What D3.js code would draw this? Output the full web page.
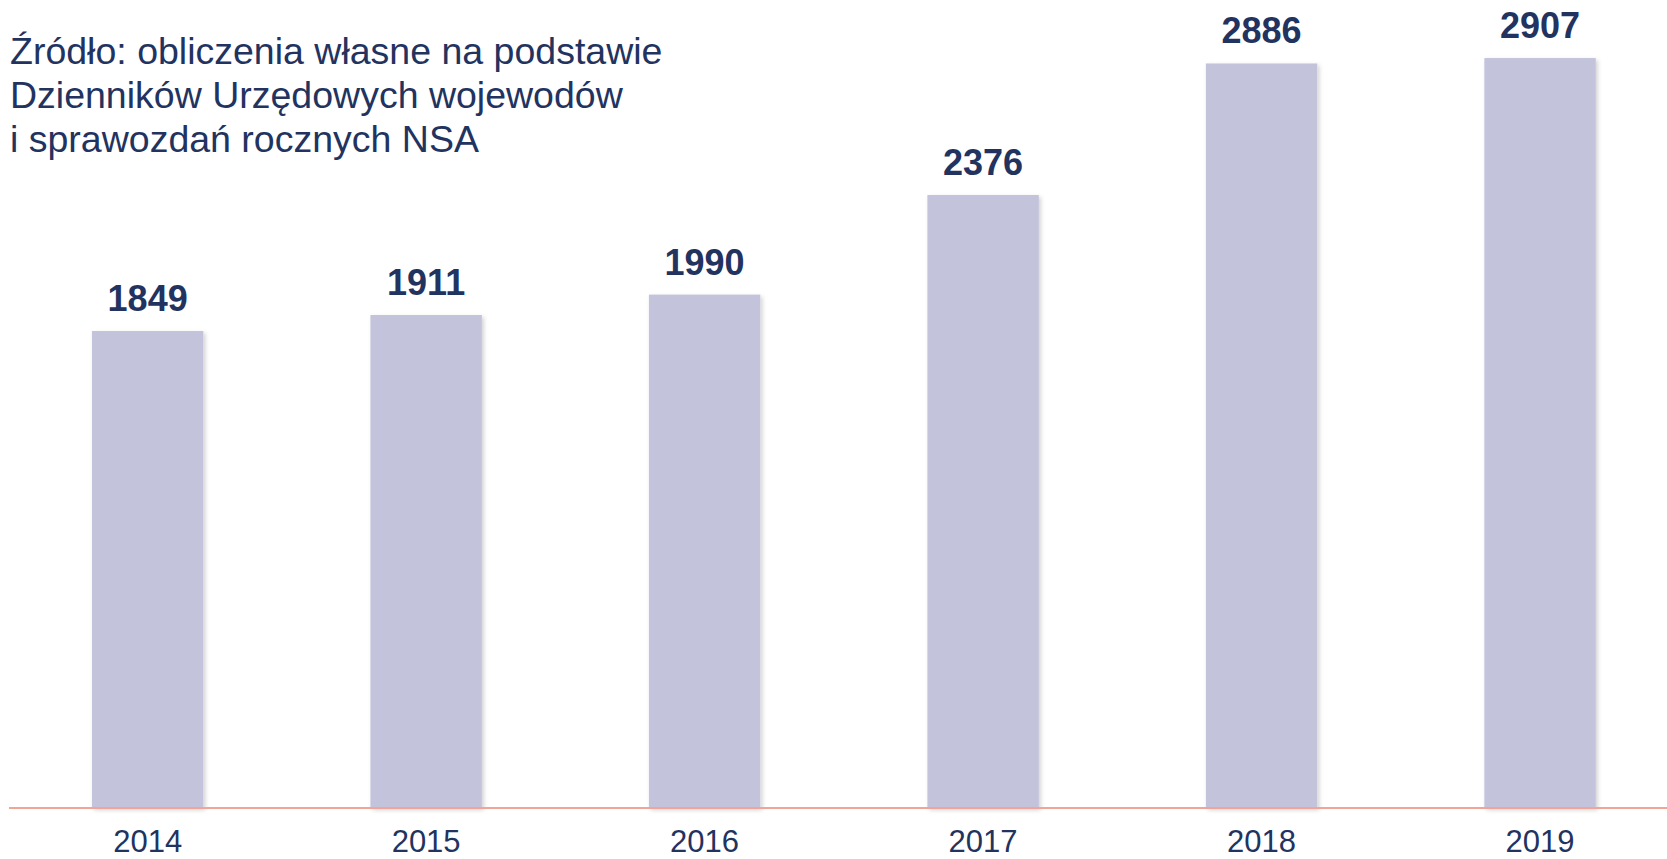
<!DOCTYPE html>
<html>
<head>
<meta charset="utf-8">
<script src="https://cdn.jsdelivr.net/npm/d3@7"></script>
<style>
  body { margin: 0; background: #fff; }
  text { font-family: "Liberation Sans", Arial, sans-serif; }
</style>
</head>
<body>
<svg width="1667" height="859"></svg>
<script>
// data
const years = ['2014', '2015', '2016', '2017', '2018', '2019'];
const counts = [1849, 1911, 1990, 2376, 2886, 2907];
const sourceLines = [
    'Źródło: obliczenia własne na podstawie',
    'Dzienników Urzędowych wojewodów',
    'i sprawozdań rocznych NSA'
];

const svg = d3.select('svg');
const width = +svg.attr('width');
const height = +svg.attr('height');
const baseY = 808;

const navy = '#22335f';

// soft shadow on the bars
const defs = svg.append('defs');
defs.append('filter')
    .attr('id', 'shadow')
    .attr('x', '-10%').attr('y', '-10%')
    .attr('width', '130%').attr('height', '130%')
    .append('feDropShadow')
    .attr('dx', 2).attr('dy', 2)
    .attr('stdDeviation', 2)
    .attr('flood-color', '#000')
    .attr('flood-opacity', 0.18);

let xScale = d3.scaleBand()
    .domain(years)
    .range([8.4, 1679.3])
    .paddingInner(0.6)
    .paddingOuter(0.3);

let yScale = d3.scaleLinear()
    .domain([0, 3132])
    .range([baseY, 0]);

const rows = years.map((y, i) => ({ year: y, value: counts[i] }));

svg.selectAll('rect.bar')
    .data(rows)
    .enter()
    .append('rect')
        .attr('class', 'bar')
        .attr('x', d => xScale(d.year))
        .attr('y', d => yScale(d.value))
        .attr('width', xScale.bandwidth())
        .attr('height', d => baseY - yScale(d.value))
        .attr('fill', '#c3c3db')
        .attr('filter', 'url(#shadow)');

// baseline
svg.append('line')
    .attr('x1', 9).attr('x2', width)
    .attr('y1', baseY).attr('y2', baseY)
    .attr('stroke', '#f0a598')
    .attr('stroke-width', 2);

// value labels
svg.selectAll('text.val')
    .data(rows)
    .enter()
    .append('text')
        .attr('class', 'val')
        .attr('x', d => xScale(d.year) + xScale.bandwidth() / 2)
        .attr('y', d => yScale(d.value) - 20)
        .attr('text-anchor', 'middle')
        .attr('font-size', 36)
        .attr('font-weight', 'bold')
        .attr('fill', navy)
        .text(d => d.value);

// year axis, no line or ticks
const xAxis = d3.axisBottom(xScale).tickSize(0).tickPadding(0);
const gx = svg.append('g')
    .attr('class', 'x-axis')
    .attr('transform', 'translate(0,' + baseY + ')')
    .call(xAxis);
gx.select('.domain').remove();
gx.selectAll('text')
    .attr('dy', null)
    .attr('y', 44)
    .attr('font-size', 31)
    .attr('font-family', '"Liberation Sans", Arial, sans-serif')
    .attr('fill', navy);

// source note
svg.append('text')
    .attr('x', 10)
    .attr('y', 64)
    .attr('font-size', 37.5)
    .attr('fill', navy)
    .selectAll('tspan')
    .data(sourceLines)
    .enter()
    .append('tspan')
        .attr('x', 10)
        .attr('dy', (d, i) => i === 0 ? 0 : 44.2)
        .text(d => d);
</script>
</body>
</html>
